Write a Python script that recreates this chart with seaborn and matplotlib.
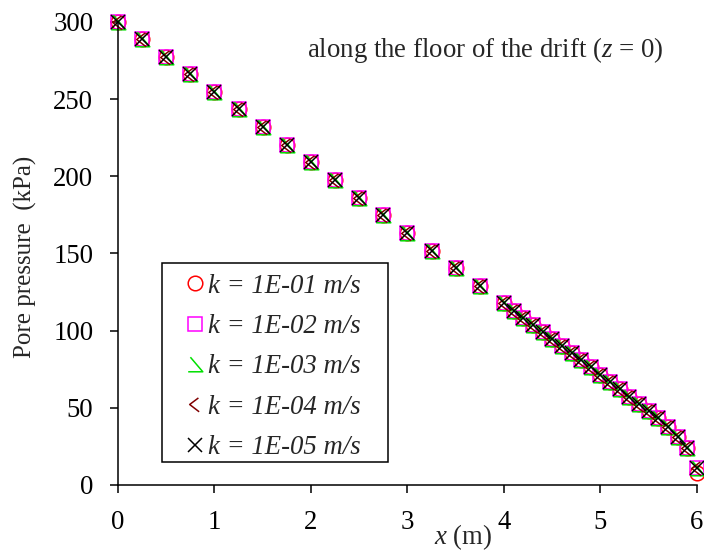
import matplotlib
matplotlib.use("Agg")
import matplotlib.pyplot as plt
from matplotlib.path import Path
from matplotlib.patches import Rectangle
import pandas as pd
import seaborn as sns

# Horizontal position along the drift floor (m)
x_m = [0.0, 0.25, 0.5, 0.75, 1.0, 1.25, 1.5, 1.75, 2.0, 2.25, 2.5, 2.75,
       3.0, 3.25, 3.5, 3.75,
       4.0, 4.1, 4.2, 4.3, 4.4, 4.5, 4.6, 4.7, 4.8, 4.9,
       5.0, 5.1, 5.2, 5.3, 5.4, 5.5, 5.6, 5.7, 5.8, 5.9, 6.0]

# Pore pressure (kPa) for each permeability
p_k1e01 = [300.0, 289.0, 277.3, 266.0, 254.8, 243.3, 232.0, 220.5, 209.0, 197.6,
           186.0, 174.8, 163.3, 151.8, 140.4, 129.2,
           117.7, 113.0, 108.3, 103.8, 99.3, 94.8, 90.2, 85.6, 81.0, 76.3,
           71.5, 66.7, 62.0, 57.3, 52.7, 48.2, 43.2, 37.8, 31.3, 23.8, 7.5]
p_k1e02 = [300.0, 289.0, 277.3, 266.0, 254.8, 243.3, 232.0, 220.5, 209.0, 197.6,
           186.0, 174.8, 163.3, 151.8, 140.4, 129.2,
           117.7, 113.0, 108.3, 103.8, 99.3, 94.8, 90.2, 85.6, 81.0, 76.3,
           71.5, 66.7, 62.0, 57.3, 52.7, 48.2, 43.2, 37.8, 31.3, 23.8, 10.8]
p_k1e03 = [300.0, 289.0, 277.3, 266.0, 254.8, 243.3, 232.0, 220.5, 209.0, 197.6,
           186.0, 174.8, 163.3, 151.8, 140.4, 129.2,
           117.7, 113.0, 108.3, 103.8, 99.3, 94.8, 90.2, 85.6, 81.0, 76.3,
           71.5, 66.7, 62.0, 57.3, 52.7, 48.2, 43.2, 37.8, 31.3, 23.8, 10.8]
p_k1e04 = [300.0, 289.0, 277.3, 266.0, 254.8, 243.3, 232.0, 220.5, 209.0, 197.6,
           186.0, 174.8, 163.3, 151.8, 140.4, 129.2,
           117.7, 113.0, 108.3, 103.8, 99.3, 94.8, 90.2, 85.6, 81.0, 76.3,
           71.5, 66.7, 62.0, 57.3, 52.7, 48.2, 43.2, 37.8, 31.3, 23.8, 10.8]
p_k1e05 = [300.0, 289.0, 277.3, 266.0, 254.8, 243.3, 232.0, 220.5, 209.0, 197.6,
           186.0, 174.8, 163.3, 151.8, 140.4, 129.2,
           117.7, 113.0, 108.3, 103.8, 99.3, 94.8, 90.2, 85.6, 81.0, 76.3,
           71.5, 66.7, 62.0, 57.3, 52.7, 48.2, 43.2, 37.8, 31.3, 23.8, 10.8]

series_labels = ["k = 1E-01 m/s", "k = 1E-02 m/s", "k = 1E-03 m/s",
                 "k = 1E-04 m/s", "k = 1E-05 m/s"]
x_ticks = [0, 1, 2, 3, 4, 5, 6]
y_ticks = [0, 50, 100, 150, 200, 250, 300]

FS = 19.3

sns.set_theme(style="ticks")
plt.rcParams.update({
    "font.family": ["Liberation Serif", "DejaVu Serif"],
    "mathtext.fontset": "custom",
    "mathtext.rm": "Liberation Serif",
    "mathtext.it": "Liberation Serif:italic",
    "axes.edgecolor": "black",
    "axes.linewidth": 1.1,
    "xtick.color": "black",
    "ytick.color": "black",
})

# Open marker shapes: a half triangle and a left-pointing chevron
half_triangle = Path([(-0.35, 0.5), (0.5, -0.5), (-0.5, -0.5)],
                     [Path.MOVETO, Path.LINETO, Path.LINETO])
chevron = Path([(0.2, 0.45), (-0.4, 0.0), (0.25, -0.5)],
               [Path.MOVETO, Path.LINETO, Path.LINETO])

styles = [
    dict(marker="o", color="#FF0000"),
    dict(marker="s", color="#FF00FF"),
    dict(marker=half_triangle, color="#00E000"),
    dict(marker=chevron, color="#800000"),
    dict(marker="x", color="#000000"),
]

fig = plt.figure(figsize=(7.04, 5.52), dpi=100)
ax = fig.add_axes([0.1676, 0.1214, 0.8224, 0.8388])

for values, label, st in zip([p_k1e01, p_k1e02, p_k1e03, p_k1e04, p_k1e05],
                             series_labels, styles):
    df = pd.DataFrame({"x": x_m, "p": values})
    sns.lineplot(data=df, x="x", y="p", ax=ax, label=label,
                 linestyle="", marker=st["marker"], color=st["color"],
                 mfc="none", mec=st["color"], ms=10.5, mew=1.1,
                 clip_on=False, sort=False)

ax.set_xlim(0, 6)
ax.set_ylim(0, 300)
ax.set_xticks(x_ticks)
ax.set_yticks(y_ticks)
ax.tick_params(direction="out", length=5.8, width=1.1, pad=12, labelsize=FS)
sns.despine(ax=ax)

ax.set_xlabel(r"$x$ (m)", fontsize=FS)
ax.xaxis.set_label_coords(0.596, -0.1123)
ax.xaxis.label.set_verticalalignment("center")
ax.set_ylabel("Pore pressure  (kPa)", fontsize=18)
ax.yaxis.set_label_coords(-0.159, 0.4925)
ax.yaxis.label.set_verticalalignment("center")

ax.text(0.3264, 0.9244, r"along the floor of the drift ($z$ = 0)",
        transform=ax.transAxes, fontsize=FS, ha="left", va="baseline")

# Legend entries without their own frame, boxed by a plain rectangle
leg = ax.legend(loc="upper left", bbox_to_anchor=(0.1209, 0.456),
                frameon=False, borderpad=0, borderaxespad=0,
                handlelength=0.56, handletextpad=0.2, labelspacing=0.57,
                prop={"family": "Liberation Serif", "style": "italic", "size": FS})
ax.add_patch(Rectangle((0.076, 0.0497), 0.3903, 0.4298, transform=ax.transAxes,
                       fill=False, edgecolor="black", linewidth=1.1,
                       clip_on=False, zorder=1))

fig.savefig("out.png", dpi=100)
